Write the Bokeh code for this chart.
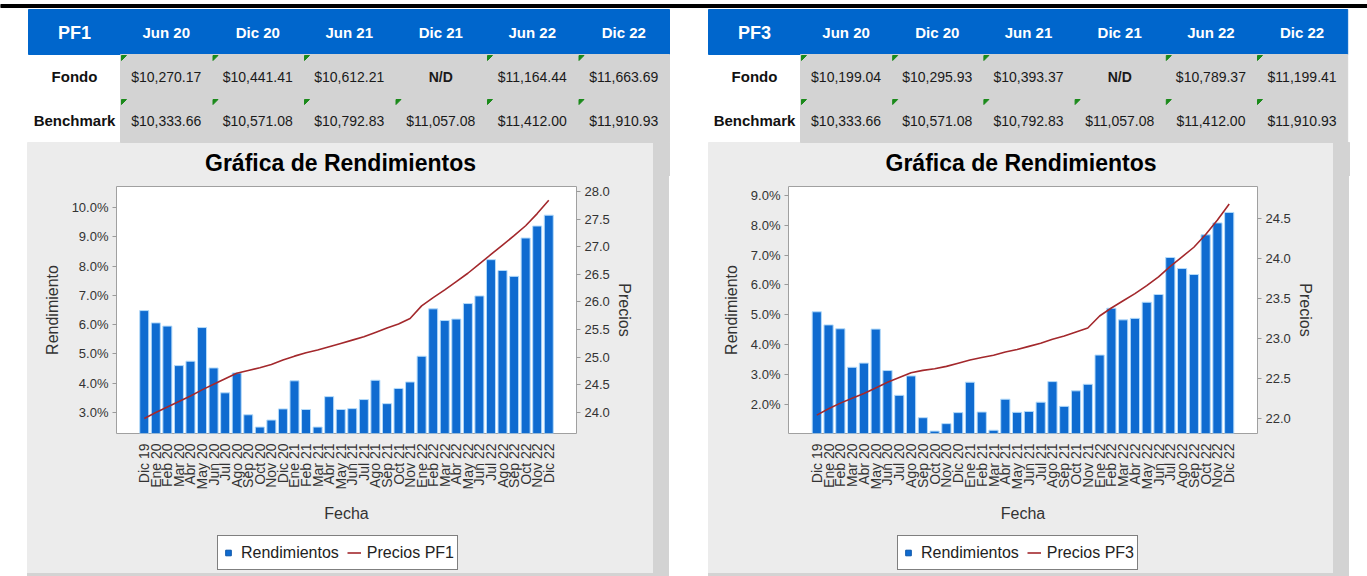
import math
from bokeh.plotting import figure
from bokeh.models import (Range1d, FactorRange, LinearAxis, FixedTicker, PrintfTickFormatter,
                          Legend, LegendItem, Div, ColumnDataSource)
from bokeh.layouts import column, row
from bokeh.embed import file_html
from bokeh.resources import INLINE
from bokeh.core.properties import value

# ---------------- data ----------------
fechas = ["Dic 19",
          "Ene 20", "Feb 20", "Mar 20", "Abr 20", "May 20", "Jun 20", "Jul 20", "Ago 20",
          "Sep 20", "Oct 20", "Nov 20", "Dic 20",
          "Ene 21", "Feb 21", "Mar 21", "Abr 21", "May 21", "Jun 21", "Jul 21", "Ago 21",
          "Sep 21", "Oct 21", "Nov 21",
          "Ene 22", "Feb 22", "Mar 22", "Abr 22", "May 22", "Jun 22", "Jul 22", "Ago 22",
          "Sep 22", "Oct 22", "Nov 22", "Dic 22"]

rend_pf1 = [6.48, 6.06, 5.95, 4.60, 4.75, 5.90, 4.52, 3.67, 4.35, 2.92, 2.50, 2.74, 3.12,
            4.08, 3.10, 2.50, 3.54, 3.10, 3.13, 3.44, 4.10, 3.30, 3.82, 4.04,
            4.92, 6.54, 6.14, 6.19, 6.72, 6.98, 8.22, 7.85, 7.65, 8.96, 9.37, 9.74]
precio_pf1 = [23.89, 24.00, 24.10, 24.20, 24.30, 24.41, 24.51, 24.61, 24.71, 24.76, 24.81, 24.87,
              24.95, 25.02, 25.08, 25.13, 25.19, 25.25, 25.31, 25.37, 25.45, 25.53, 25.60,
              25.70, 25.93, 26.08, 26.22, 26.37, 26.52, 26.69, 26.86, 27.03, 27.20, 27.38,
              27.60, 27.84]

rend_pf3 = [5.10, 4.66, 4.53, 3.24, 3.38, 4.52, 3.13, 2.30, 2.95, 1.55, 1.10, 1.35, 1.72,
            2.74, 1.74, 1.13, 2.17, 1.73, 1.76, 2.07, 2.76, 1.93, 2.45, 2.67,
            3.65, 5.22, 4.83, 4.88, 5.42, 5.68, 6.92, 6.55, 6.35, 7.68, 8.08, 8.43]
precio_pf3 = [22.04, 22.12, 22.19, 22.25, 22.31, 22.38, 22.45, 22.51, 22.57, 22.60, 22.62, 22.65,
              22.69, 22.73, 22.76, 22.79, 22.83, 22.86, 22.90, 22.94, 22.99, 23.03, 23.08,
              23.13, 23.28, 23.38, 23.47, 23.56, 23.66, 23.77, 23.90, 24.02, 24.14, 24.30,
              24.48, 24.68]

periodos = ["Jun 20", "Dic 20", "Jun 21", "Dic 21", "Jun 22", "Dic 22"]
fondo_pf1 = ["$10,270.17", "$10,441.41", "$10,612.21", "N/D", "$11,164.44", "$11,663.69"]
fondo_pf3 = ["$10,199.04", "$10,295.93", "$10,393.37", "N/D", "$10,789.37", "$11,199.41"]
benchmark = ["$10,333.66", "$10,571.08", "$10,792.83", "$11,057.08", "$11,412.00", "$11,910.93"]
filas = ["Fondo", "Benchmark"]
titulo = "Gráfica de Rendimientos"

FONT = "Liberation Sans"
BLUE = "#0066cc"
BAR = "#0f6bd0"
LINE = "#a3282c"
PANEL = "#ececec"
GRAY = "#d3d3d3"

TOP_H = 176

# ---------------- tables + chart titles (top strip) ----------------
tbl = figure(width=1367, height=TOP_H, x_range=Range1d(0, 1367), y_range=Range1d(TOP_H, 0),
             toolbar_location=None, output_backend="svg", min_border=0,
             x_axis_type=None, y_axis_type=None)
tbl.grid.visible = False
tbl.outline_line_color = None
tbl.background_fill_color = "white"
tbl.border_fill_color = "white"

tbl.quad(left=[0], right=[1367], top=[4], bottom=[7], color="black")


def draw_table(x0, name, fondo, colw, panel_x0, panel_x1):
    lw = 92
    right = x0 + lw + 6 * colw
    # chart panel background (upper part, holds the chart title)
    tbl.quad(left=[panel_x0], right=[panel_x1], top=[142], bottom=[TOP_H + 4], color=PANEL)
    tbl.quad(left=[panel_x1], right=[panel_x1 + 16], top=[142], bottom=[TOP_H + 4], color=GRAY)
    tbl.text(x=[(panel_x0 + panel_x1) / 2], y=[162], text=[titulo], text_align="center",
             text_baseline="middle", text_font=value(FONT), text_font_size="23px",
             text_font_style="bold", text_color="black")
    # table
    tbl.quad(left=[x0], right=[right], top=[9], bottom=[54], color=BLUE)
    tbl.quad(left=[x0 + lw], right=[right], top=[54], bottom=[142], color=GRAY)
    cx = [x0 + lw + (i + 0.5) * colw for i in range(6)]
    tbl.text(x=[x0 + lw / 2], y=[32], text=[name], text_align="center", text_baseline="middle",
             text_font=value(FONT), text_font_size="18px", text_font_style="bold", text_color="white")
    tbl.text(x=cx, y=[32] * 6, text=periodos, text_align="center", text_baseline="middle",
             text_font=value(FONT), text_font_size="15px", text_font_style="bold", text_color="white")
    tbl.text(x=[x0 + lw / 2] * 2, y=[76, 120], text=filas, text_align="center", text_baseline="middle",
             text_font=value(FONT), text_font_size="15px", text_font_style="bold", text_color="#111111")
    for yy, vals in ((76, fondo), (120, benchmark)):
        reg = [(c, v) for c, v in zip(cx, vals) if v != "N/D"]
        nd = [(c, v) for c, v in zip(cx, vals) if v == "N/D"]
        tbl.text(x=[c for c, _ in reg], y=[yy] * len(reg), text=[v for _, v in reg],
                 text_align="center", text_baseline="middle", text_font=value(FONT),
                 text_font_size="14px", text_color="#1a1a1a")
        if nd:
            tbl.text(x=[c for c, _ in nd], y=[yy] * len(nd), text=[v for _, v in nd],
                     text_align="center", text_baseline="middle", text_font=value(FONT),
                     text_font_size="14px", text_font_style="bold", text_color="#1a1a1a")
        top = yy - 22
        xs, ys = [], []
        for i, v in enumerate(vals):
            if v == "N/D":
                continue
            l = x0 + lw + i * colw + 1
            xs.append([l, l + 5, l])
            ys.append([top + 1, top + 1, top + 6])
        tbl.patches(xs=xs, ys=ys, color="#1b8a1b")


draw_table(28, "PF1", fondo_pf1, 91.5, 27, 653)
draw_table(708, "PF3", fondo_pf3, 91.2, 708, 1333)


# ---------------- charts ----------------
def make_chart(rend, precio, yl, yr, lt, rt, width, mleft, mright):
    src = ColumnDataSource(dict(fecha=fechas, rend=rend, precio=precio))
    p = figure(width=width, height=351,
               x_range=FactorRange(factors=fechas, range_padding=1.9, range_padding_units="absolute"),
               y_range=Range1d(*yl), toolbar_location=None, output_backend="svg",
               min_border_left=mleft, min_border_right=mright, min_border_top=10, min_border_bottom=94,
               background_fill_color="white", border_fill_color=PANEL,
               styles={"background-color": PANEL})
    p.extra_y_ranges = {"precios": Range1d(*yr)}
    p.grid.visible = False
    p.outline_line_color = "#a0a0a0"

    p.vbar(x="fecha", top="rend", bottom=0, width=0.78, source=src,
           fill_color=BAR, line_color="#b4dbfa", line_width=1)
    p.line(x="fecha", y="precio", source=src, y_range_name="precios",
           line_color=LINE, line_width=1.6)

    ax = p.yaxis[0]
    ax.ticker = FixedTicker(ticks=lt)
    ax.formatter = PrintfTickFormatter(format="%.1f%%")
    ax.axis_label = "Rendimiento"

    rax = LinearAxis(y_range_name="precios", ticker=FixedTicker(ticks=rt),
                     formatter=PrintfTickFormatter(format="%.1f"), axis_label="Precios")
    p.add_layout(rax, "right")

    for a in (ax, rax):
        a.axis_line_color = None
        a.major_tick_out = 4
        a.major_tick_in = 0
        a.minor_tick_line_color = None
        a.major_tick_line_color = "#9a9a9a"
        a.major_label_standoff = 4
    ax.axis_label_standoff = 8
    rax.axis_label_standoff = 3

    xa = p.xaxis[0]
    xa.axis_label = "Fecha"
    xa.major_label_orientation = math.pi / 2
    xa.major_tick_line_color = None
    xa.axis_line_color = None
    xa.major_label_standoff = 4
    xa.axis_label_standoff = 13
    xa.major_label_text_font_size = "14px"

    for a in (ax, rax, xa):
        a.major_label_text_font = FONT
        a.major_label_text_color = "#333333"
        a.axis_label_text_font = FONT
        a.axis_label_text_font_size = "16px"
        a.axis_label_text_font_style = "normal"
        a.axis_label_text_color = "#333333"
    ax.major_label_text_font_size = "13px"
    rax.major_label_text_font_size = "13px"
    return p


def make_legend(nombre, width, mleft, mright, xoff):
    lf = figure(width=width, height=46, x_range=Range1d(0, 1), y_range=Range1d(0, 1),
                toolbar_location=None, output_backend="svg",
                min_border_left=mleft, min_border_right=mright, min_border_top=0, min_border_bottom=0,
                x_axis_type=None, y_axis_type=None,
                background_fill_color=PANEL, border_fill_color=PANEL,
                styles={"background-color": PANEL})
    lf.grid.visible = False
    lf.outline_line_color = None
    # legend-only glyphs (kept outside the visible range)
    sq = lf.scatter(x=[-1], y=[-1], marker="square", size=9, fill_color=BAR, line_color="#0a55a8")
    ln = lf.line(x=[-2, -1], y=[-1, -1], line_color=LINE, line_width=1.6)
    leg = Legend(items=[LegendItem(label="Rendimientos", renderers=[sq]),
                        LegendItem(label="Precios " + nombre, renderers=[ln])],
                 orientation="horizontal", location=(xoff, 3),
                 glyph_width=14, glyph_height=27, padding=3, spacing=8, label_standoff=6,
                 label_text_font=FONT, label_text_font_size="16px", label_text_color="#222222",
                 border_line_color="black", border_line_width=1, background_fill_color="white",
                 background_fill_alpha=1.0, margin=0)
    lf.add_layout(leg, "center")
    return lf


p1 = make_chart(rend_pf1, precio_pf1, (2.28, 10.72), (23.62, 28.09),
                [3, 4, 5, 6, 7, 8, 9, 10], [24.0, 24.5, 25.0, 25.5, 26.0, 26.5, 27.0, 27.5, 28.0],
                626, 89, 77)
p3 = make_chart(rend_pf3, precio_pf3, (1.02, 9.3), (21.81, 24.9),
                [2, 3, 4, 5, 6, 7, 8, 9], [22.0, 22.5, 23.0, 23.5, 24.0, 24.5],
                625, 80, 76)
l1 = make_legend("PF1", 626, 89, 77, 101)
l3 = make_legend("PF3", 625, 80, 76, 109)


def block(w, h, color):
    return Div(text="", width=w, height=h, margin=0, styles={"background-color": color})


BH = 576 - TOP_H
bottom = row(
    block(27, BH, "white"),
    column(p1, l1, block(626, 3, GRAY), spacing=0, styles={"background-color": PANEL}),
    block(16, BH, GRAY),
    block(39, BH, "white"),
    column(p3, l3, block(625, 3, GRAY), spacing=0, styles={"background-color": PANEL}),
    block(16, BH, GRAY),
    block(18, BH, "white"),
    spacing=0,
)

layout = column(tbl, bottom, spacing=0)

with open("out.html", "w") as f:
    f.write(file_html(layout, INLINE))
